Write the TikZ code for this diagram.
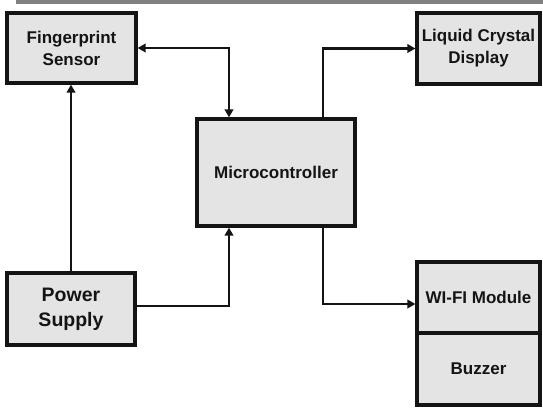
\documentclass[tikz,border=0pt]{standalone}
\usepackage{fontspec}
\setmainfont{Liberation Sans}
\usetikzlibrary{arrows.meta,calc}
\definecolor{boxfill}{HTML}{E4E4E4}
\definecolor{bargray}{HTML}{808080}
\definecolor{ink}{HTML}{141414}
\tikzset{
  blk/.style={draw=ink, fill=boxfill, line width=3.2pt, rectangle, inner sep=0pt,
    align=center, font=\bfseries\fontsize{17}{22}\selectfont, text=ink},
  conn/.style={draw=ink, line width=2.2pt, -{Triangle[length=8pt,width=8.5pt]}},
  conn2/.style={draw=ink, line width=2.2pt, {Triangle[length=8pt,width=8.5pt]}-{Triangle[length=8pt,width=8.5pt]}}
}
\begin{document}
\begin{tikzpicture}[x=1pt,y=-1pt]
\useasboundingbox (0,0) rectangle (543,408);
\fill[bargray] (16,0) rectangle (543,4);
\node[blk, minimum width=129pt, minimum height=70pt] (fs) at (71.5,48) {Fingerprint\\Sensor};
\node[blk, minimum width=123pt, minimum height=71pt] (lcd) at (478.5,48.5) {Liquid Crystal\\Display};
\node[blk, minimum width=158pt, minimum height=107pt] (mc) at (276,172.5) {Microcontroller};
\node[blk, minimum width=128pt, minimum height=72pt, font=\bfseries\fontsize{19.5}{25}\selectfont] (ps) at (71,309) {Power\\Supply};
\node[blk, minimum width=123pt, minimum height=71pt] (wifi) at (478.5,297.5) {WI-FI Module};
\node[blk, minimum width=123pt, minimum height=72pt] (bz) at (478.5,369) {Buzzer};
\draw[conn2] (fs.east) -| ([xshift=-47pt]mc.north);
\draw[conn] ([xshift=47pt]mc.north) |- (lcd.west);
\draw[conn] ($(ps.east)+(0,-3)$) -| ([xshift=-47pt]mc.south);
\draw[conn] ([xshift=47pt]mc.south) |- ($(wifi.west)+(0,6.5)$);
\draw[conn] (ps.north) -- (ps.north |- fs.south);
\end{tikzpicture}
\end{document}
